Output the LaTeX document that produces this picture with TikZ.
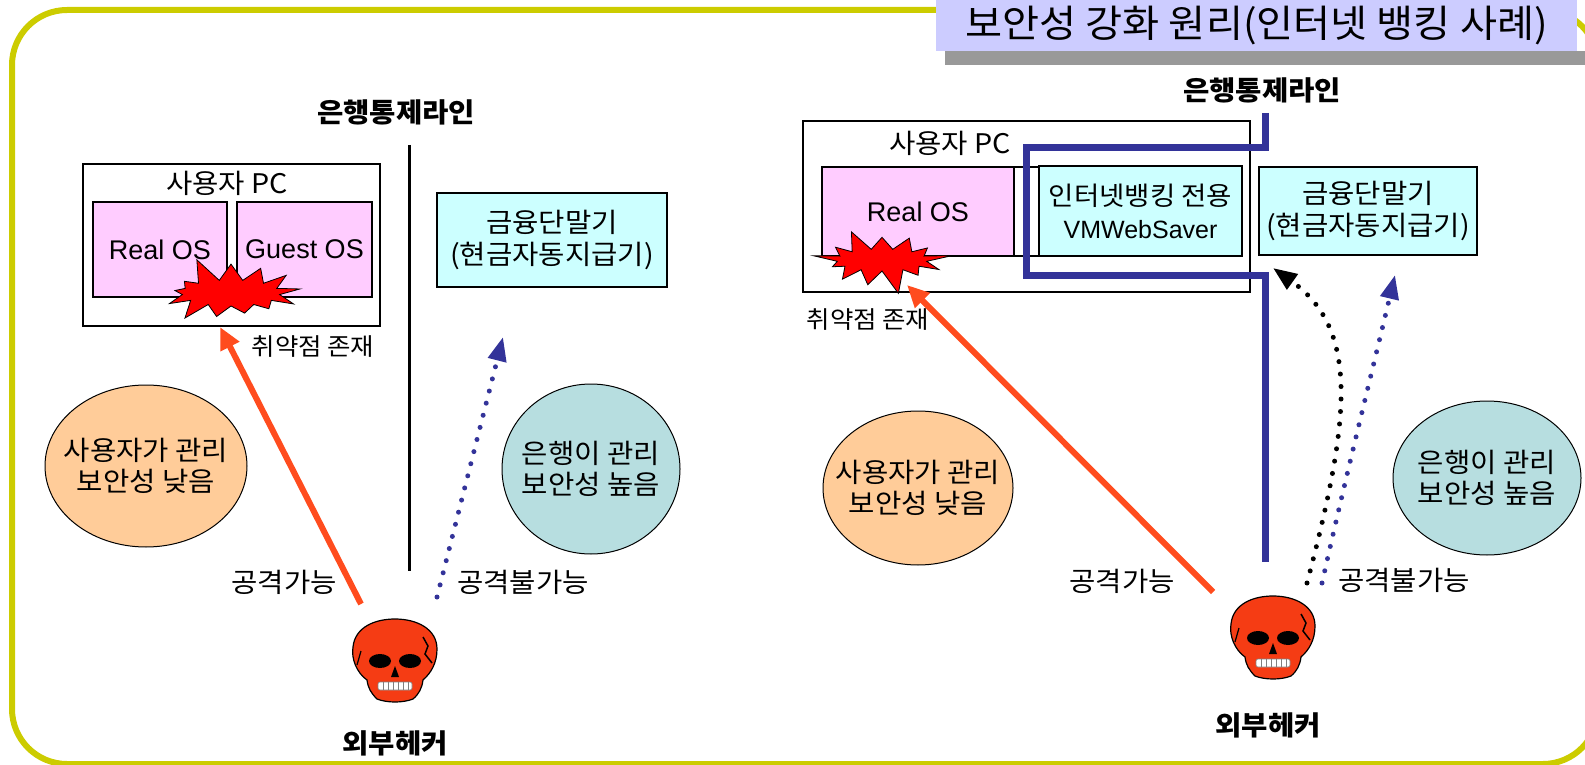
\documentclass[tikz,border=0pt]{standalone}
\usepackage{fontspec}
\setmainfont{Noto Sans CJK KR}[FakeStretch=1.06]
\newfontfamily\osfont{Liberation Sans}
\usetikzlibrary{positioning, arrows.meta, shapes.geometric, shapes.symbols}

\definecolor{frameyellow}{RGB}{204,204,0}
\definecolor{titlelav}{RGB}{204,204,255}
\definecolor{shadowgray}{RGB}{153,153,153}
\definecolor{ospink}{RGB}{255,204,255}
\definecolor{termcyan}{RGB}{204,255,255}
\definecolor{userorange}{RGB}{255,204,153}
\definecolor{bankteal}{RGB}{183,222,224}
\definecolor{attackred}{RGB}{255,76,30}
\definecolor{ctrlblue}{RGB}{51,51,153}
\definecolor{skullred}{RGB}{245,60,20}

\tikzset{
x=1pt, y=-1pt, % one unit per pixel, y grows downwards
pcbox/.style={draw, line width=1.2pt, inner sep=0pt}, % the user PC frame
osbox/.style={draw, line width=1.2pt, fill=ospink, inner sep=0pt, font=\osfont\fontsize{27}{30}\selectfont},
termbox/.style={draw, line width=1.2pt, fill=termcyan, align=center, inner sep=0pt, font=\fontsize{27}{32}\selectfont},
userzone/.style={ellipse, draw, line width=1pt, fill=userorange, inner sep=0pt},
bankzone/.style={ellipse, draw, line width=1pt, fill=bankteal, inner sep=0pt},
zonetext/.style={align=center, inner sep=0pt, font=\fontsize{27}{31}\selectfont}, % text set on an ellipse
burst/.style={starburst, draw, fill=red, line width=0.8pt, starburst points=13, starburst point height=26pt, inner sep=0pt},
note/.style={font=\fontsize{27}{30}\selectfont}, % small captions
heading/.style={font=\bfseries\fontsize{27}{30}\selectfont},
attack/.style={draw=attackred, line width=6pt, -{Triangle[length=22pt, width=20pt]}},
blocked/.style={draw=ctrlblue, line width=5pt, line cap=round, dash pattern=on 0pt off 12.5pt, -{Triangle[length=24pt, width=18pt]}},
blockedblack/.style={blocked, draw=black},
ctrlline/.style={draw=ctrlblue, line width=7pt},
skull/.pic={
  % cranium and jaw
  \draw[fill=skullred, line width=1.2pt]
    (-18,38) .. controls (-24,32) and (-27,27) .. (-28,19)
    .. controls (-38,12) and (-44,-2) .. (-42,-14)
    .. controls (-40,-34) and (-20,-42) .. (0,-42)
    .. controls (22,-42) and (42,-32) .. (42,-12)
    .. controls (42,2) and (36,12) .. (28,19)
    .. controls (27,27) and (24,33) .. (18,38)
    .. controls (8,42) and (-8,42) .. (-18,38) -- cycle;
  % eye sockets and nose
  \fill (-15,0) ellipse (11 and 7);
  \fill (15,0) ellipse (11 and 7);
  \fill (0,5) -- (-4,16) -- (4,16) -- cycle;
  % teeth
  \draw[fill=white, draw=gray, line width=0.6pt, rounded corners=2pt] (-17,21) rectangle (17,29);
  \foreach \t in {-12,-7,...,13} \draw[gray, line width=0.5pt] (\t,21) -- (\t,29);
  % cracks
  \draw[line width=1.5pt] (28,-24) -- (33,-15) -- (30,-7) -- (37,2);
  \draw[line width=1.2pt] (-34,-10) -- (-38,4);
}
}

\begin{document}
\begin{tikzpicture}
\useasboundingbox (0,0) rectangle (1585,765);

% outer frame and title
\draw[frameyellow, line width=6pt, rounded corners=55pt] (12,10) rectangle (1598,764);
\fill[shadowgray] (945,51) rectangle (1585,65);
\node[fill=titlelav, anchor=north west, minimum width=641pt, minimum height=51pt, inner sep=0pt,
  font=\fontsize{38}{40}\selectfont] (title) at (936,0) {보안성 강화 원리(인터넷 뱅킹 사례)};

%% left: one PC, two OS
\node[heading] (lineL) at (396,112) {은행통제라인};
\draw[line width=3pt] (409,145) -- (409,571);
\node[pcbox, minimum width=297pt, minimum height=162pt] (pcL) at (231.5,245) {};
\node[note] (pcnameL) at (227,183) {사용자 PC};
\node[osbox, minimum width=134pt, minimum height=95pt] (realL) at (160,249.5) {Real OS};
\node[osbox, minimum width=135pt, minimum height=95pt] (guestL) at (304.5,249.5) {Guest OS};
\node[burst, minimum width=150pt, minimum height=78pt, random starburst=5] (burstL) at (231,293) {};
\node[note, font=\fontsize{24}{26}\selectfont] (weakL) at (313,347) {취약점 존재};
\node[termbox, minimum width=230pt, minimum height=94pt] (atmL) at (552,240) {금융단말기\\(현금자동지급기)};
\node[userzone, minimum width=202pt, minimum height=162pt] (userL) at (146,466) {};
\node[zonetext] at (userL) {사용자가 관리\\보안성 낮음};
\node[bankzone, minimum width=178pt, minimum height=170pt] (bankL) at (591,469) {};
\node[zonetext] at (bankL) {은행이 관리\\보안성 높음};

\pic at (395,661) {skull};
\node[heading] (hackerL) at (395,743) {외부헤커};
\coordinate (atkL) at (361,604);
\coordinate (hitL) at (220,327);
\coordinate (tryL) at (437,597);
\coordinate (stopL) at (503,337);
\draw[attack] (atkL) -- (hitL);
\draw[blocked] (tryL) -- (stopL);
\node[note] (okL) at (284,582) {공격가능};
\node[note] (failL) at (523,582) {공격불가능};

%% right: banking runs in its own VM
\node[heading] (lineR) at (1262,90) {은행통제라인};
\node[pcbox, minimum width=447pt, minimum height=171pt] (pcR) at (1026.5,206.5) {};
\node[note] (pcnameR) at (950,143) {사용자 PC};
\node[osbox, minimum width=192pt, minimum height=89pt] (realR) at (918,211.5) {Real OS};
\draw[line width=1.2pt] (1014,167) rectangle (1039,256);
\node[termbox, minimum width=203pt, minimum height=90pt, font=\fontsize{26}{33}\selectfont] (vmR) at (1140.5,211)
  {인터넷뱅킹 전용\\{\osfont\fontsize{25}{28}\selectfont VMWebSaver}};
\node[termbox, minimum width=218pt, minimum height=88pt] (atmR) at (1368,211) {금융단말기\\(현금자동지급기)};
\draw[ctrlline] (1265,113) -- (1265,148) -- (1026,148) -- (1026,275) -- (1265,275) -- (1265,562);
\node[burst, minimum width=142pt, minimum height=74pt, random starburst=9] (burstR) at (882,260) {};
\node[note, font=\fontsize{24}{26}\selectfont] (weakR) at (868,320) {취약점 존재};
\node[userzone, minimum width=190pt, minimum height=154pt] (userR) at (918,488) {};
\node[zonetext] at (userR) {사용자가 관리\\보안성 낮음};
\node[bankzone, minimum width=188pt, minimum height=154pt] (bankR) at (1487,478) {};
\node[zonetext] at (bankR) {은행이 관리\\보안성 높음};

\pic at (1273,638) {skull};
\node[heading] (hackerR) at (1268,725) {외부헤커};
\coordinate (atkR) at (1213,592);
\coordinate (hitR) at (907,285);
\coordinate (tryR) at (1307,583);
\coordinate (stopR) at (1273,268);
\coordinate (tryR2) at (1322,583);
\coordinate (stopR2) at (1395,275);
\draw[attack] (atkR) -- (hitR);
\draw[blockedblack] (tryR) .. controls (1350,420) and (1360,330) .. (stopR);
\draw[blocked] (tryR2) .. controls (1345,480) and (1370,380) .. (stopR2);
\node[note] (okR) at (1122,581) {공격가능};
\node[note] (failR) at (1404,580) {공격불가능};
\end{tikzpicture}
\end{document}
